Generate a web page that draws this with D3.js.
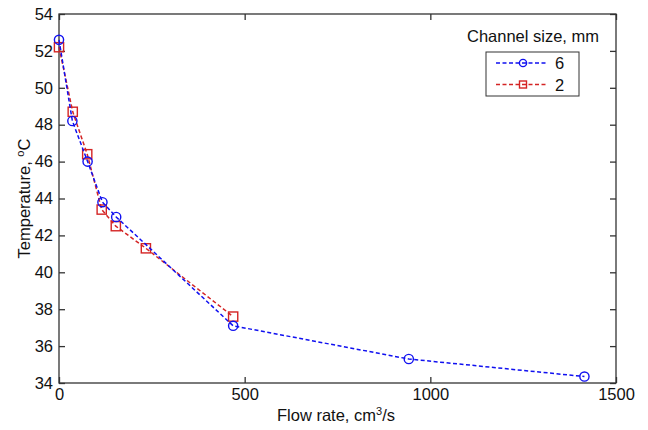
<!DOCTYPE html>
<html>
<head>
<meta charset="utf-8">
<script src="https://cdn.jsdelivr.net/npm/d3@7"></script>
<style>
body { margin: 0; background: #fff; }
text { font-family: "Liberation Sans", Arial, sans-serif; fill: #111; }
</style>
</head>
<body>
<svg id="chart"></svg>
<script>
// data
var flow6 = [0, 36, 77, 117, 154, 469, 942, 1415]
var temp6 = [52.6, 48.2, 46.0, 43.8, 43.0, 37.1, 35.3, 34.35]
var flow2 = [0, 37, 76, 115, 153, 234, 469]
var temp2 = [52.2, 48.7, 46.4, 43.4, 42.5, 41.3, 37.6]
var xTicks = [0, 500, 1000, 1500]
var yTicks = [34, 36, 38, 40, 42, 44, 46, 48, 50, 52, 54]
var seriesNames = ["6", "2"]

var screen = { width: 648, height: 430 }
var margin = { left: 59, right: 32, top: 14, bottom: 47 }
var width = screen.width - margin.left - margin.right
var height = screen.height - margin.top - margin.bottom

var svg = d3.select("#chart")
  .attr("width", screen.width)
  .attr("height", screen.height)

var g = svg.append("g")
  .attr("transform", "translate(" + margin.left + "," + margin.top + ")")

var xScale = d3.scaleLinear().domain([0, 1500]).range([0, width])
var yScale = d3.scaleLinear().domain([34, 54]).range([height, 0])

var axisColor = "#333"
var tickLen = 6
var fontSize = "16.5px"

// box
g.append("rect")
  .attr("width", width).attr("height", height)
  .attr("fill", "none").attr("stroke", axisColor).attr("stroke-width", 1.3)

var xAxis = d3.axisBottom(xScale).tickValues(xTicks).tickFormat(d3.format("d")).tickSize(-tickLen).tickPadding(5)
var gx = g.append("g").attr("transform", "translate(0," + height + ")").call(xAxis)
var xTop = d3.axisTop(xScale).tickValues(xTicks).tickSize(-tickLen).tickFormat("")
var gxt = g.append("g").call(xTop)
var yAxis = d3.axisLeft(yScale).tickValues(yTicks).tickSize(-tickLen).tickPadding(6)
var gy = g.append("g").call(yAxis)
var yRight = d3.axisRight(yScale).tickValues(yTicks).tickSize(-tickLen).tickFormat("")
var gyr = g.append("g").attr("transform", "translate(" + width + ",0)").call(yRight)

;[gx, gxt, gy, gyr].forEach(function(a){
  a.select(".domain").remove()
  a.selectAll(".tick line").attr("stroke", axisColor).attr("stroke-width", 1.3)
  a.selectAll("text").style("font-size", fontSize).attr("fill", "#111")
})

// series
var series = [
  { name: seriesNames[0], xs: flow6, ys: temp6, color: "#1010f0", marker: "circle" },
  { name: seriesNames[1], xs: flow2, ys: temp2, color: "#d42424", marker: "square" }
]

var line = d3.line()
  .x(function(d){ return xScale(d[0]) })
  .y(function(d){ return yScale(d[1]) })

var drawMarker = function(sel, s, x, y){
  if (s.marker === "circle") {
    sel.append("circle").attr("cx", x).attr("cy", y).attr("r", 4.6)
      .attr("fill", "none").attr("stroke", s.color).attr("stroke-width", 1.4)
  } else {
    sel.append("rect").attr("x", x - 4.6).attr("y", y - 4.6)
      .attr("width", 9.2).attr("height", 9.2)
      .attr("fill", "none").attr("stroke", s.color).attr("stroke-width", 1.4)
  }
}

// draw red first so blue sits on top like the original
series.slice().reverse().forEach(function(s){
  var pts = s.xs.map(function(x, i){ return [x, s.ys[i]] })
  g.append("path")
    .datum(pts)
    .attr("d", line)
    .attr("fill", "none")
    .attr("stroke", s.color)
    .attr("stroke-width", 1.5)
    .attr("stroke-dasharray", "4,2.5")
  pts.forEach(function(p){
    drawMarker(g, s, xScale(p[0]), yScale(p[1]))
  })
})

// axis labels
svg.append("text")
  .attr("x", 336)
  .attr("y", 421)
  .attr("text-anchor", "middle")
  .style("font-size", fontSize)
  .html('Flow rate, cm<tspan dy="-6" style="font-size:11px">3</tspan><tspan dy="6">/s</tspan>')

svg.append("text")
  .attr("transform", "translate(30," + (margin.top + height / 2) + ") rotate(-90)")
  .attr("text-anchor", "middle")
  .style("font-size", fontSize)
  .html('Temperature, <tspan dy="-6" style="font-size:11px">o</tspan><tspan dy="6">C</tspan>')

// legend
var leg = svg.append("g")
leg.append("text")
  .attr("x", 533).attr("y", 42)
  .attr("text-anchor", "middle")
  .style("font-size", fontSize)
  .text("Channel size, mm")
leg.append("rect")
  .attr("x", 486).attr("y", 52).attr("width", 93).attr("height", 44)
  .attr("fill", "#fff").attr("stroke", axisColor).attr("stroke-width", 1)
series.forEach(function(s, i){
  var yy = 63 + i * 21.5
  leg.append("line")
    .attr("x1", 496).attr("x2", 548).attr("y1", yy).attr("y2", yy)
    .attr("stroke", s.color).attr("stroke-width", 1.5).attr("stroke-dasharray", "4,2.5")
  var m = leg.append("g")
  if (s.marker === "circle") {
    m.append("circle").attr("cx", 523).attr("cy", yy).attr("r", 3.6)
      .attr("fill", "none").attr("stroke", s.color).attr("stroke-width", 1.4)
  } else {
    m.append("rect").attr("x", 519.5).attr("y", yy - 3.5).attr("width", 7).attr("height", 7)
      .attr("fill", "none").attr("stroke", s.color).attr("stroke-width", 1.4)
  }
  leg.append("text")
    .attr("x", 555).attr("y", yy + 6)
    .style("font-size", fontSize)
    .text(s.name)
})
</script>
</body>
</html>
